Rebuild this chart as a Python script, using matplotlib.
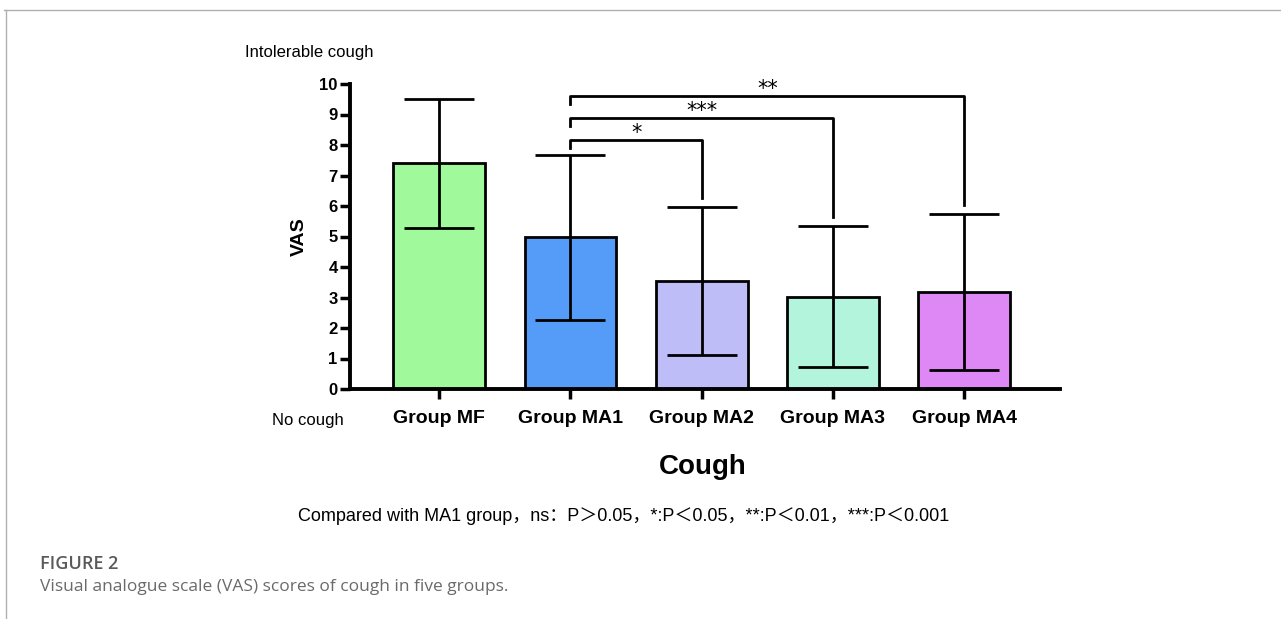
import matplotlib.pyplot as plt
from matplotlib.lines import Line2D

# Data
groups = ["Group MF", "Group MA1", "Group MA2", "Group MA3", "Group MA4"]
means = [7.40, 4.97, 3.53, 3.03, 3.18]
sds = [2.12, 2.70, 2.43, 2.31, 2.56]
colors = ["#a0fa9c", "#559cf9", "#bfbdf7", "#b3f4dd", "#dd88f4"]

# significance brackets vs MA1
comp_from = [1, 1, 1]
comp_to = [2, 3, 4]
comp_y = [8.18, 8.90, 9.61]
comp_label = ["*", "***", "**"]

plt.rcParams["font.family"] = ["Liberation Sans", "DejaVu Sans"]

fig = plt.figure(figsize=(12.81, 6.19), dpi=100)
ax = fig.add_axes([350 / 1281, 1 - 389 / 619, 710 / 1281, 305 / 619])

x = list(range(len(groups)))
ax.bar(x, means, width=0.7, color=colors, edgecolor="black", linewidth=2, zorder=2)
ax.errorbar(x, means, yerr=sds, fmt="none", ecolor="black", elinewidth=2,
            capsize=25, capthick=2, zorder=3)

gap = 0.3
for i0, i1, y, lab in zip(comp_from, comp_to, comp_y, comp_label):
    ax.plot([i0, i0, i1, i1],
            [y - 0.28, y, y, means[i1] + sds[i1] + gap],
            color="black", lw=2, clip_on=False)
    ax.text((i0 + i1) / 2, y + 0.22, lab, ha="center", va="center",
            fontsize=15, color="black", family="DejaVu Sans")

ax.set_xlim(-0.68, 4.73)
ax.set_ylim(0, 10)
ax.set_yticks(range(0, 11))
ax.set_xticks(x)
ax.set_xticklabels(groups, fontsize=14, fontweight="bold")
for lab in ax.get_yticklabels():
    lab.set_fontweight("bold")
    lab.set_fontsize(12)
ax.tick_params(axis="both", width=2.5, length=7, direction="out")
ax.tick_params(axis="x", pad=8)
ax.tick_params(axis="y", pad=2)
for side in ["top", "right"]:
    ax.spines[side].set_visible(False)
for side in ["left", "bottom"]:
    ax.spines[side].set_linewidth(2.8)

ax.set_ylabel("VAS", fontsize=14, fontweight="bold", labelpad=8)

# annotations around the plot
fig.text(245 / 1281, 1 - 52 / 619, "Intolerable cough", fontsize=12,
         ha="left", va="center")
fig.text(272 / 1281, 1 - 420 / 619, "No cough", fontsize=12,
         ha="left", va="center")
fig.text(703 / 1281, 1 - 467 / 619, "Cough", fontsize=20, fontweight="bold",
         ha="center", va="center")
fig.text(624 / 1281, 1 - 516 / 619,
         "Compared with MA1 group\uff0cns\uff1aP\uff1e0.05\uff0c*:P\uff1c0.05\uff0c**:P\uff1c0.01\uff0c***:P\uff1c0.001",
         fontsize=13, ha="center", va="center",
         family=["Liberation Sans", "Noto Sans CJK SC"])

# figure caption
fig.text(40 / 1281, 1 - 564 / 619, "FIGURE 2", fontsize=13, color="#5a5a5a",
         fontweight="semibold", family="Open Sans", ha="left", va="center")
fig.text(40 / 1281, 1 - 587 / 619,
         "Visual analogue scale (VAS) scores of cough in five groups.",
         fontsize=12.5, color="#6a6a6a", family="Open Sans",
         ha="left", va="center")

# page frame
fig.add_artist(Line2D([4 / 1281, 1], [1 - 10 / 619, 1 - 10 / 619],
                      color="#b0b0b0", lw=1))
fig.add_artist(Line2D([6 / 1281, 6 / 1281], [0, 1 - 10 / 619],
                      color="#b0b0b0", lw=1))

fig.savefig("out.png", dpi=100, facecolor="white")
